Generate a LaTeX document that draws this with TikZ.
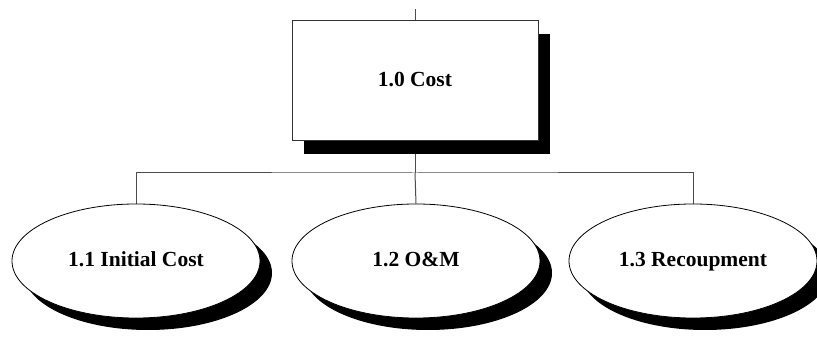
\documentclass[tikz,border=0pt]{standalone}
\usepackage{fontspec}
\setmainfont{Liberation Serif}
\usetikzlibrary{shapes.geometric,shadows,backgrounds}

\begin{document}
\begin{tikzpicture}[x=1pt,y=-1pt,
    costbox/.style={draw=black!80,line width=1pt,fill=white,minimum width=246pt,minimum height=120pt,
        font=\fontsize{21.5}{25}\selectfont\bfseries,text height=1.2em,text depth=0em,
        drop shadow={shadow xshift=12pt,shadow yshift=-13pt,fill=black,opacity=1}},
    leaf/.style={ellipse,draw=black,line width=0.8pt,fill=white,inner sep=0pt,minimum width=248pt,minimum height=114pt,
        font=\fontsize{21.5}{25}\selectfont\bfseries,text height=1.1em,text depth=0em,
        drop shadow={shadow xshift=12pt,shadow yshift=-12pt,fill=black,opacity=1}},
    wire/.style={draw=black!70,line width=1pt}]
        \useasboundingbox(0,0)rectangle(817,339);
        \coordinate(top)at(415,9);
        \coordinate(bus)at(415,173);
        \node[costbox](cost)at(415,81){1.0 Cost};
        \node[leaf](init)at(136,261){1.1 Initial Cost};
        \node[leaf](om)at(416,261){1.2 O\&M};
        \node[leaf](recoup)at(693,261){1.3 Recoupment};
        \begin{pgfonlayer}{background}
        \draw[wire](top)--(cost.north);
        \draw[wire](cost.south)--(bus);
        \draw[wire](init.north)|-(bus)-|(recoup.north);
        \draw[wire](bus)--(om.north);
        \end{pgfonlayer}
    \end{tikzpicture}
\end{document}
